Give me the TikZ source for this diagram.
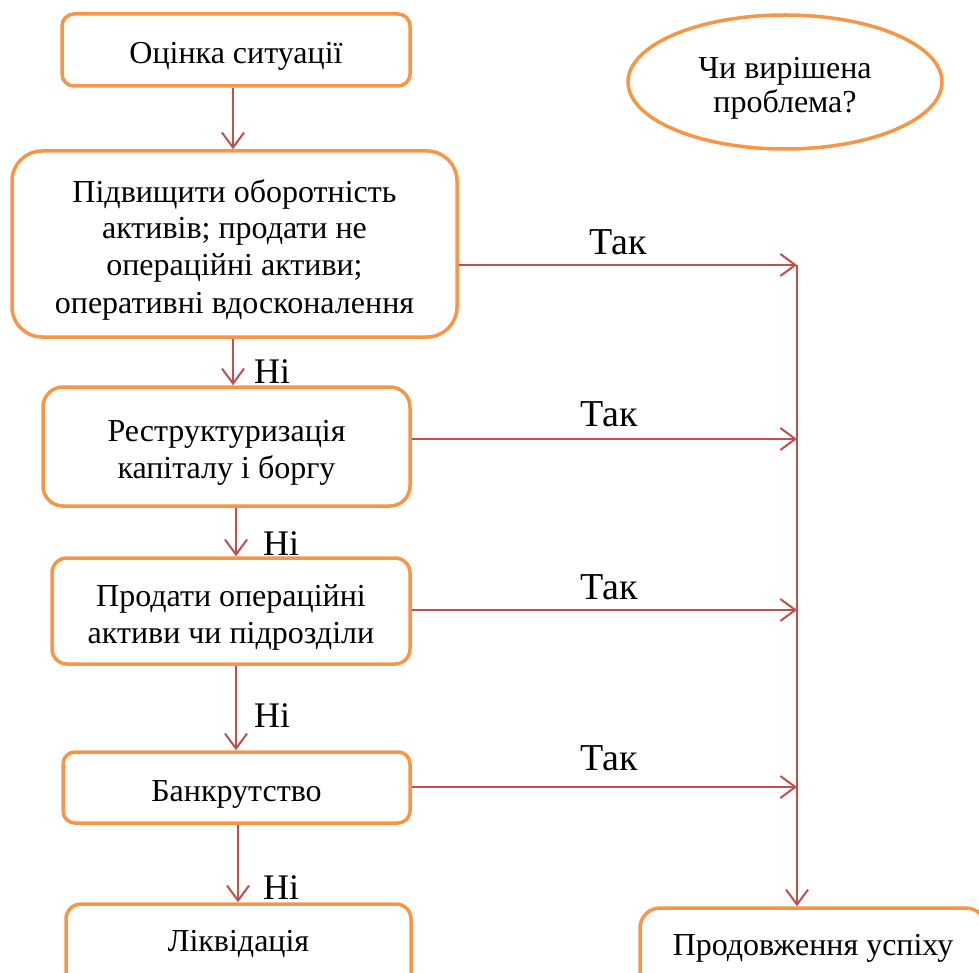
\documentclass[tikz,border=0pt]{standalone}
\usepackage{fontspec}
\setmainfont{Liberation Serif}
\usetikzlibrary{arrows.meta,shapes.geometric}
\definecolor{ob}{HTML}{F79646}
\definecolor{ar}{HTML}{C0504D}
\newcommand{\toprl}{\rule{0pt}{38pt}}
\newcommand{\botrl}[1][11]{\rule[-#1pt]{0pt}{#1pt}}
\begin{document}
\begin{tikzpicture}[x=1pt,y=-1pt,
  box/.style={draw=ob, line width=3.5pt, fill=white, align=center, inner sep=0pt,
    font=\fontsize{32}{37}\selectfont},
  oval/.style={draw=ob, line width=3.5pt, ellipse, align=center, inner sep=0pt,
    font=\fontsize{32}{34}\selectfont},
  arr/.style={draw=ar, line width=2pt, -{Straight Barb[length=15pt,width=22pt]}},
  yes/.style={inner sep=0pt, font=\fontsize{38}{44}\selectfont},
  no/.style={inner sep=0pt, font=\fontsize{36}{42}\selectfont}]
\useasboundingbox (0,0) rectangle (979,973);
\clip (0,0) rectangle (979,973);
\node[box, rounded corners=12pt, minimum width=348pt, minimum height=72pt] (b1) at (236,50) {\toprl Оцінка ситуації\botrl};
\node[box, rounded corners=30pt, minimum width=445pt, minimum height=186pt] (b2) at (234.5,244)
  {\toprl Підвищити оборотність\\активів; продати не\\операційні активи;\\оперативні вдосконалення\botrl};
\node[box, rounded corners=20pt, minimum width=367pt, minimum height=119pt] (b3) at (226.5,446.5)
  {\toprl Реструктуризація\\капіталу і боргу\botrl};
\node[box, rounded corners=15pt, minimum width=358pt, minimum height=106pt] (b4) at (231,611)
  {\toprl Продати операційні\\активи чи підрозділи\botrl};
\node[box, rounded corners=12pt, minimum width=347pt, minimum height=71pt] (b5) at (236.5,787.5) {\toprl Банкрутство\botrl};
\node[box, rounded corners=15pt, minimum width=345pt, minimum height=90pt] (b6) at (238.5,949) {\toprl Ліквідація\botrl[33]};
\node[box, rounded corners=20pt, minimum width=346pt, minimum height=90pt] (b7) at (813,953) {\toprl Продовження успіху\botrl[34]};
\node[oval, minimum width=314pt, minimum height=134pt] (e) at (785,82) {\toprl Чи вирішена\\проблема?\botrl};

\coordinate (vt) at (797,265);
\coordinate (h3) at (797,439);
\coordinate (h4) at (797,610);
\coordinate (h5) at (797,787);

\draw[arr] (b1.south -| 233,0) -- (b2.north -| 233,0);
\draw[arr] (b2.south -| 233,0) -- (b3.north -| 233,0);
\draw[arr] (b3.south -| 236,0) -- (b4.north -| 236,0);
\draw[arr] (b4.south -| 236,0) -- (b5.north -| 236,0);
\draw[arr] (b5.south -| 238,0) -- (b6.north -| 238,0);

\draw[arr] (b2.east |- vt) -- (vt);
\draw[arr] (b3.east |- h3) -- (h3);
\draw[arr] (b4.east |- h4) -- (h4);
\draw[arr] (b5.east |- h5) -- (h5);
\draw[arr] (vt) -- (vt |- b7.north);

\node[yes, anchor=base] (t1) at (618,255) {Так};
\node[yes, anchor=base] (t2) at (609,426) {Так};
\node[yes, anchor=base] (t3) at (609,599) {Так};
\node[yes, anchor=base] (t4) at (609,770) {Так};

\node[no, anchor=base west] (n1) at (254,383) {Ні};
\node[no, anchor=base west] (n2) at (263,555) {Ні};
\node[no, anchor=base west] (n3) at (254,727) {Ні};
\node[no, anchor=base west] (n4) at (263,899) {Ні};
\end{tikzpicture}
\end{document}
